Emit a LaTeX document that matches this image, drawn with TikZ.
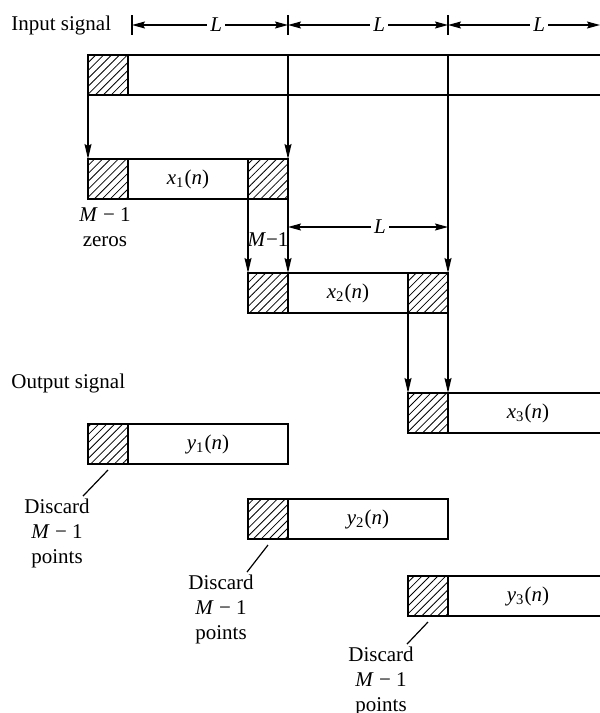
\documentclass[tikz,border=0pt]{standalone}
\usepackage{fontspec}
\setmainfont{Liberation Serif}
\usepackage{tikz}
\usetikzlibrary{positioning,arrows.meta,patterns.meta}

\newcommand{\sig}[2]{\textit{#1}\textsubscript{#2}(\textit{n})}

\begin{document}
\begin{tikzpicture}[
  x=0.5pt, y=-0.5pt,
  font=\fontsize{10.5}{12.5}\selectfont,
  zerobox/.style={draw, line width=0.7pt, inner sep=0pt, outer sep=0pt,
                  minimum width=20pt, minimum height=20pt,
                  pattern={Lines[angle=45,distance=2.8pt,line width=0.4pt]}},
  databox/.style={draw, line width=0.7pt, inner sep=0pt, outer sep=0pt,
                  minimum height=20pt},
  arrow/.style={-{Stealth[length=7.5pt,width=3.5pt,inset=1pt]}, line width=0.6pt},
  dim/.style={{Stealth[length=6.5pt,width=3.5pt,inset=1pt]}-{Stealth[length=6.5pt,width=3.5pt,inset=1pt]},
              line width=0.6pt},
  lbl/.style={fill=white, inner sep=1.5pt}
]
\path[use as bounding box, clip] (0,0) rectangle (600,713);

% length marks above the input
\coordinate (t1) at (132,25);
\coordinate (t2) at (288,25);
\coordinate (t3) at (448,25);
\coordinate (t4) at (600,25);
\foreach \t in {t1,t2,t3}
  \draw[line width=0.6pt] ([yshift=5pt]\t) -- ([yshift=-5pt]\t);
\draw[dim] (t1) -- node[lbl,pos=.54]{\textit{L}} (t2);
\draw[dim] (t2) -- node[lbl,pos=.57]{\textit{L}} (t3);
\draw[dim] (t3) -- node[lbl,pos=.6]{\textit{L}} (t4);

\node[anchor=west, inner sep=0pt] (inlbl) at (11,25) {Input signal};
\node[anchor=west, inner sep=0pt] (outlbl) at (11,383) {Output signal};

% input signal
\node[zerobox] (inZ) at (108,75) {};
\node[databox, minimum width=240pt, right=0pt of inZ] (inD) {};

% input blocks
\node[zerobox] (x1L) at (108,179) {};
\node[databox, minimum width=60pt, right=0pt of x1L] (x1D) {\sig{x}{1}};
\node[zerobox, right=0pt of x1D] (x1R) {};

\node[zerobox] (x2L) at (268,293) {};
\node[databox, minimum width=60pt, right=0pt of x2L] (x2D) {\sig{x}{2}};
\node[zerobox, right=0pt of x2D] (x2R) {};

\node[zerobox] (x3L) at (428,413) {};
\node[databox, minimum width=80pt, right=0pt of x3L] (x3D) {\sig{x}{3}};

\node[align=center, inner sep=0pt] (zr) at (105,227) {\textit{M} − 1\\zeros};
\node[inner sep=0pt] (ov) at (268,240) {\textit{M}−1};

\draw[arrow] (inZ.south west) -- (x1L.north west);
\draw[arrow] (t2 |- inD.north) -- (x1R.north east);
\draw[arrow] (t3 |- inD.north) -- (x2R.north east);
\draw[arrow] (x1R.south west) -- (x2L.north west);
\draw[arrow] (x1R.south east) -- (x2L.north east);
\draw[arrow] (x2R.south west) -- (x3L.north west);
\draw[arrow] (x2R.south east) -- (x3L.north east);

\coordinate (m1) at (288,227);
\coordinate (m2) at (448,227);
\draw[dim] (m1) -- node[lbl,pos=.575]{\textit{L}} (m2);

% output blocks
\node[zerobox] (y1L) at (108,444) {};
\node[databox, minimum width=80pt, right=0pt of y1L] (y1D) {\sig{y}{1}};
\node[zerobox] (y2L) at (268,519) {};
\node[databox, minimum width=80pt, right=0pt of y2L] (y2D) {\sig{y}{2}};
\node[zerobox] (y3L) at (428,596) {};
\node[databox, minimum width=80pt, right=0pt of y3L] (y3D) {\sig{y}{3}};

\node[align=center, inner sep=0pt] (d1) at (57,533) {Discard\\\textit{M} − 1\\points};
\node[align=center, inner sep=0pt] (d2) at (221,609) {Discard\\\textit{M} − 1\\points};
\node[align=center, inner sep=0pt] (d3) at (381,681) {Discard\\\textit{M} − 1\\points};

\draw[line width=0.6pt] ([yshift=-3pt]y1L.south) -- ([xshift=13pt,yshift=1pt]d1.north);
\draw[line width=0.6pt] ([yshift=-3pt]y2L.south) -- ([xshift=13pt,yshift=1pt]d2.north);
\draw[line width=0.6pt] ([yshift=-3pt]y3L.south) -- ([xshift=13pt,yshift=1pt]d3.north);
\end{tikzpicture}
\end{document}
